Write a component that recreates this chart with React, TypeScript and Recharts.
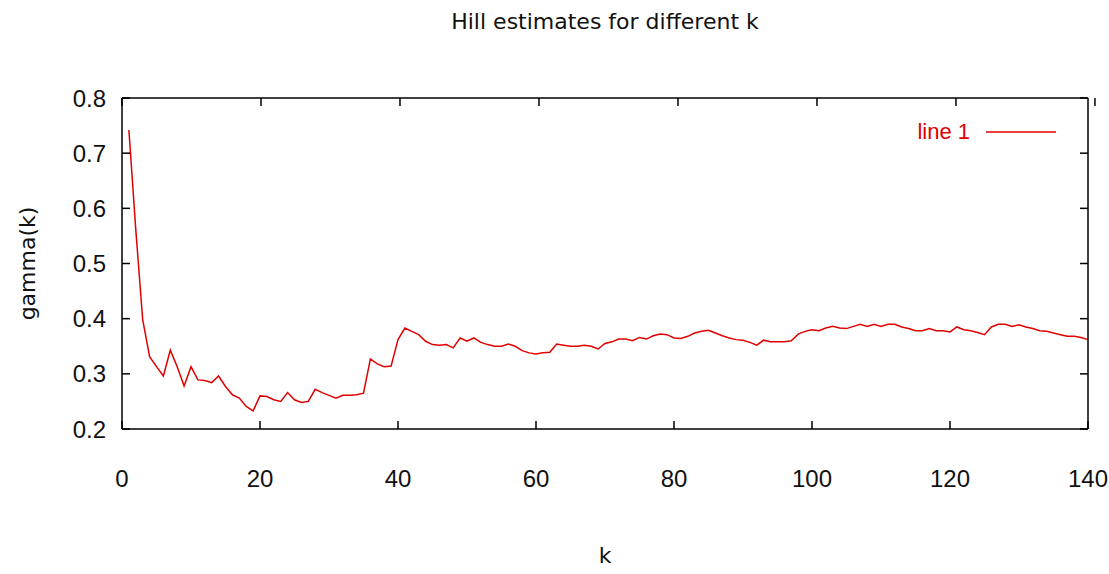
import React from 'react';
import { LineChart, Line, XAxis, YAxis, Legend } from 'recharts';

// Hill estimator gamma(k) for k = 1..140
const kValues: number[] = Array.from({ length: 140 }, (_, i) => i + 1);

const gammaValues: number[] = [
  0.742, 0.561, 0.398, 0.331, 0.313, 0.296, 0.343, 0.313, 0.278, 0.313,
  0.289, 0.288, 0.284, 0.296, 0.277, 0.262, 0.256, 0.241, 0.233, 0.260,
  0.259, 0.253, 0.250, 0.266, 0.253, 0.248, 0.250, 0.272, 0.266, 0.261,
  0.256, 0.261, 0.261, 0.262, 0.265, 0.327, 0.318, 0.313, 0.314, 0.362,
  0.383, 0.377, 0.371, 0.359, 0.353, 0.352, 0.353, 0.347, 0.365, 0.359,
  0.365, 0.357, 0.353, 0.350, 0.350, 0.354, 0.350, 0.342, 0.338, 0.336,
  0.338, 0.339, 0.354, 0.352, 0.350, 0.350, 0.352, 0.350, 0.345, 0.355,
  0.358, 0.363, 0.363, 0.360, 0.366, 0.363, 0.369, 0.372, 0.371, 0.365,
  0.364, 0.368, 0.374, 0.377, 0.379, 0.374, 0.369, 0.365, 0.362, 0.361,
  0.357, 0.352, 0.361, 0.358, 0.358, 0.358, 0.360, 0.372, 0.377, 0.380,
  0.378, 0.383, 0.386, 0.383, 0.382, 0.386, 0.390, 0.386, 0.390, 0.386,
  0.390, 0.390, 0.385, 0.382, 0.378, 0.378, 0.382, 0.378, 0.378, 0.376,
  0.385, 0.380, 0.378, 0.375, 0.371, 0.385, 0.390, 0.390, 0.386, 0.389,
  0.385, 0.382, 0.378, 0.377, 0.374, 0.371, 0.368, 0.368, 0.366, 0.362,
];

const xTicks: number[] = [0, 20, 40, 60, 80, 100, 120, 140];
const yTicks: number[] = [0.2, 0.3, 0.4, 0.5, 0.6, 0.7, 0.8];

const seriesName = 'line 1';
const titleText = 'Hill estimates for different k';
const xLabel = 'k';
const yLabel = 'gamma(k)';

const data = kValues.map((k, i) => ({ k, gamma: gammaValues[i] }));

const LINE_COLOR = '#e00000';
const LABEL_FONT = '"DejaVu Sans", sans-serif';
const TICK_FONT = '"Liberation Sans", Arial, sans-serif';
const TICK_FONT_SIZE = 24;
const TICK_LEN = 8;
const X_TICK_GAP = 41;
const Y_TICK_GAP = 16;
const AXIS_STROKE = { stroke: '#000', strokeWidth: 1.5 };

// Bottom axis: label below, tick mark pointing into the plot
const BottomTick = (props: any) => {
  const { x, y, payload } = props;
  const axisY = y - X_TICK_GAP;
  return (
    <g>
      <line x1={x} x2={x} y1={axisY} y2={axisY - TICK_LEN} {...AXIS_STROKE} />
      <text
        x={x}
        y={y}
        dy="0.71em"
        textAnchor="middle"
        fontFamily={TICK_FONT}
        fontSize={TICK_FONT_SIZE}
        fill="#111"
      >
        {payload.value}
      </text>
    </g>
  );
};

// Left axis: label to the left, tick mark pointing into the plot
const LeftTick = (props: any) => {
  const { x, y, payload } = props;
  const axisX = x + Y_TICK_GAP;
  return (
    <g>
      <line x1={axisX} x2={axisX + TICK_LEN} y1={y} y2={y} {...AXIS_STROKE} />
      <text
        x={x}
        y={y}
        dy="0.36em"
        textAnchor="end"
        fontFamily={TICK_FONT}
        fontSize={TICK_FONT_SIZE}
        fill="#111"
      >
        {Number(payload.value).toFixed(1)}
      </text>
    </g>
  );
};

// Mirrored ticks on the top and right borders (no labels)
const TopTick = (props: any) => {
  const { x, y } = props;
  return <line x1={x} x2={x} y1={y} y2={y + TICK_LEN} {...AXIS_STROKE} />;
};

const RightTick = (props: any) => {
  const { x, y } = props;
  return <line x1={x} x2={x - TICK_LEN} y1={y} y2={y} {...AXIS_STROKE} />;
};

const LegendContent = () => (
  <div style={{ display: 'flex', alignItems: 'center', height: 26 }}>
    <span
      style={{
        width: 104,
        textAlign: 'right',
        color: LINE_COLOR,
        fontFamily: TICK_FONT,
        fontSize: 22,
        lineHeight: '26px',
      }}
    >
      {seriesName}
    </span>
    <svg width={88} height={6}>
      <line x1={16} x2={86} y1={3} y2={3} stroke={LINE_COLOR} strokeWidth={1.5} />
    </svg>
  </div>
);

export default function App() {
  return (
    <div style={{ position: 'relative', width: 1109, height: 574, background: '#fff', overflow: 'visible' }}>
      <style>{'html,body{margin:0;padding:0;overflow:hidden;background:#fff}'}</style>
      <div
        style={{
          position: 'absolute',
          left: 122,
          width: 966,
          top: 9,
          textAlign: 'center',
          fontFamily: LABEL_FONT,
          fontSize: 22,
          lineHeight: '26px',
          color: '#111',
        }}
      >
        {titleText}
      </div>
      <LineChart
        width={1109}
        height={574}
        data={data}
        margin={{ top: 97, right: 20, bottom: 105, left: 12 }}
        style={{ overflow: 'visible' }}
      >
        <XAxis
          xAxisId="x"
          dataKey="k"
          type="number"
          domain={[0, 140]}
          ticks={xTicks}
          height={40}
          tickSize={0}
          tickMargin={X_TICK_GAP}
          tick={<BottomTick />}
          tickLine={false}
          axisLine={AXIS_STROKE}
          label={{
            value: xLabel,
            position: 'bottom',
            offset: 78,
            style: { fontSize: 22, fontFamily: LABEL_FONT, fill: '#111' },
          }}
        />
        <XAxis
          xAxisId="top"
          orientation="top"
          type="number"
          domain={[0, 140]}
          allowDataOverflow
          ticks={xTicks}
          height={1}
          tickSize={0}
          tickMargin={0}
          tick={<TopTick />}
          tickLine={false}
          axisLine={AXIS_STROKE}
        />
        <YAxis
          yAxisId="y"
          type="number"
          domain={[0.2, 0.8]}
          ticks={yTicks}
          width={110}
          tickSize={0}
          tickMargin={Y_TICK_GAP}
          tick={<LeftTick />}
          tickLine={false}
          axisLine={AXIS_STROKE}
          label={{
            value: yLabel,
            angle: -90,
            position: 'insideLeft',
            offset: 15,
            style: { textAnchor: 'middle', fontSize: 22, fontFamily: LABEL_FONT, fill: '#111' },
          }}
        />
        <YAxis
          yAxisId="right"
          orientation="right"
          type="number"
          domain={[0.2, 0.8]}
          allowDataOverflow
          ticks={yTicks}
          width={1}
          tickSize={0}
          tickMargin={0}
          tick={<RightTick />}
          tickLine={false}
          axisLine={AXIS_STROKE}
        />
        <Legend
          layout="vertical"
          align="center"
          verticalAlign="middle"
          wrapperStyle={{ top: 119, left: 866, width: 200 }}
          content={<LegendContent />}
        />
        <Line
          xAxisId="x"
          yAxisId="y"
          type="linear"
          dataKey="gamma"
          name={seriesName}
          stroke={LINE_COLOR}
          strokeWidth={1.5}
          dot={false}
          isAnimationActive={false}
        />
      </LineChart>
    </div>
  );
}
